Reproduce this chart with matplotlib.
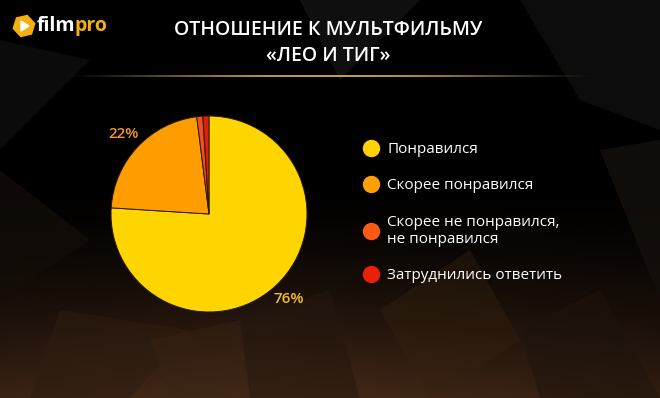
import numpy as np
import matplotlib.pyplot as plt
from matplotlib.lines import Line2D
from matplotlib.patches import Polygon, RegularPolygon
from matplotlib.colors import to_rgb


TITLE = 'ОТНОШЕНИЕ К МУЛЬТФИЛЬМУ\n«ЛЕО И ТИГ»'
categories = ['Понравился', 'Скорее понравился',
              'Скорее не понравился,\nне понравился', 'Затруднились ответить']
shares = [76, 22, 1, 1]
slice_colors = ['#FFD500', '#FF9C00', '#F2501A', '#DC1F0C']
legend_colors = ['#FFD200', '#FFA000', '#FF5A14', '#E8200C']
label_colors = ['#F2C21B', '#F0962A']

W, H = 660, 398

plt.rcParams['font.family'] = ['Open Sans', 'DejaVu Sans']

fig = plt.figure(figsize=(W / 100, H / 100), dpi=100)
fig.patch.set_facecolor('black')

# background: dark at the top, brownish facets towards the bottom
ax_bg = fig.add_axes([0, 0, 1, 1])
ax_bg.set_xlim(0, W)
ax_bg.set_ylim(H, 0)
ax_bg.axis('off')
yy, xx = np.mgrid[0:H, 0:W]
t = np.clip((yy - 180) / 218, 0, 1) ** 1.5 * (0.8 - 0.4 * np.abs(xx / W - 0.4))
brown = np.array(to_rgb('#5a3620'))
img = t[..., None] * brown[None, None, :]
ax_bg.imshow(img, extent=(0, W, H, 0), aspect='auto', zorder=0)

facets = [
    ([(300, 0), (420, 0), (340, 80)], '#141414', 0.8),
    ([(520, 0), (660, 0), (660, 130), (580, 100)], '#101010', 0.8),
    ([(0, 40), (90, 60), (0, 150)], '#0e0e0e', 0.8),
    ([(600, 150), (660, 140), (660, 300)], '#15100c', 0.8),
    ([(0, 170), (90, 240), (0, 300)], '#140e09', 0.7),
    ([(60, 310), (190, 330), (130, 398), (30, 398)], '#2e1d11', 0.5),
    ([(240, 320), (330, 290), (360, 398), (250, 398)], '#24170e', 0.5),
    ([(380, 310), (470, 250), (520, 340), (430, 398)], '#35220f', 0.4),
    ([(520, 330), (600, 290), (660, 398), (540, 398)], '#1e140c', 0.5),
    ([(150, 340), (240, 320), (250, 398), (170, 398)], '#3a2515', 0.4),
]
for pts, col, a in facets:
    ax_bg.add_patch(Polygon(pts, closed=True, color=col, alpha=a, lw=0, zorder=1))

# gold divider fading at both ends
strip = np.linspace(-1, 1, 400)
alpha = np.clip(1 - strip ** 2, 0, 1) ** 1.5
gold = np.zeros((1, 400, 4))
gold[..., :3] = to_rgb('#c8a040')
gold[..., 3] = alpha
ax_bg.imshow(gold, extent=(60, 600, 77.5, 76), aspect='auto', zorder=2)

# logo
ax_bg.add_patch(RegularPolygon((24, 26), 6, radius=11, orientation=0.3,
                               color='#F4B010', zorder=3))
ax_bg.add_patch(Polygon([(21, 21), (21, 31), (29, 26)], closed=True,
                        color='white', zorder=4))
t_film = ax_bg.text(37, 26, 'film', color='white', fontsize=14,
                    fontweight='bold', va='center', ha='left', zorder=4)
fig.canvas.draw()
bb = t_film.get_window_extent()
x_pro = ax_bg.transData.inverted().transform((bb.x1, bb.y0))[0]
ax_bg.text(x_pro - 1.5, 26, 'pro', color='#F4B010', fontsize=14,
           fontweight='bold', va='center', ha='left', zorder=4)

# title
ax_bg.text(328, 43, TITLE, color='white', fontsize=14, fontweight='semibold',
           ha='center', va='center', linespacing=1.42, zorder=4)

# pie
cx, cy, r = 209, 214, 98
ax = fig.add_axes([(cx - r) / W, (H - cy - r) / H, 2 * r / W, 2 * r / H])
ax.set_facecolor('none')
wedges, texts, autotexts = ax.pie(
    shares, colors=slice_colors, startangle=90, counterclock=False,
    autopct=lambda p: f'{p:.0f}%' if p > 5 else '', pctdistance=1.19,
    wedgeprops=dict(edgecolor='#2a1a10', linewidth=0.7),
    textprops=dict(fontsize=11, fontweight='semibold'))
for txt, col in zip(autotexts, label_colors):
    txt.set_color(col)
ax.set_xlim(-1, 1)
ax.set_ylim(-1, 1)

handles = [Line2D([], [], marker='o', ls='', markersize=11.5, color=c)
           for c in legend_colors]
leg = fig.legend(handles, categories, loc='upper left',
                 bbox_to_anchor=(363 / W, 1 - 142 / H), frameon=False,
                 fontsize=11, labelcolor='white', handlelength=1.0,
                 handletextpad=0.6, labelspacing=1.4, borderpad=0,
                 borderaxespad=0)
for txt in leg.get_texts():
    txt.set_linespacing(1.2)

fig.savefig('out.png', dpi=100, facecolor=fig.get_facecolor())
